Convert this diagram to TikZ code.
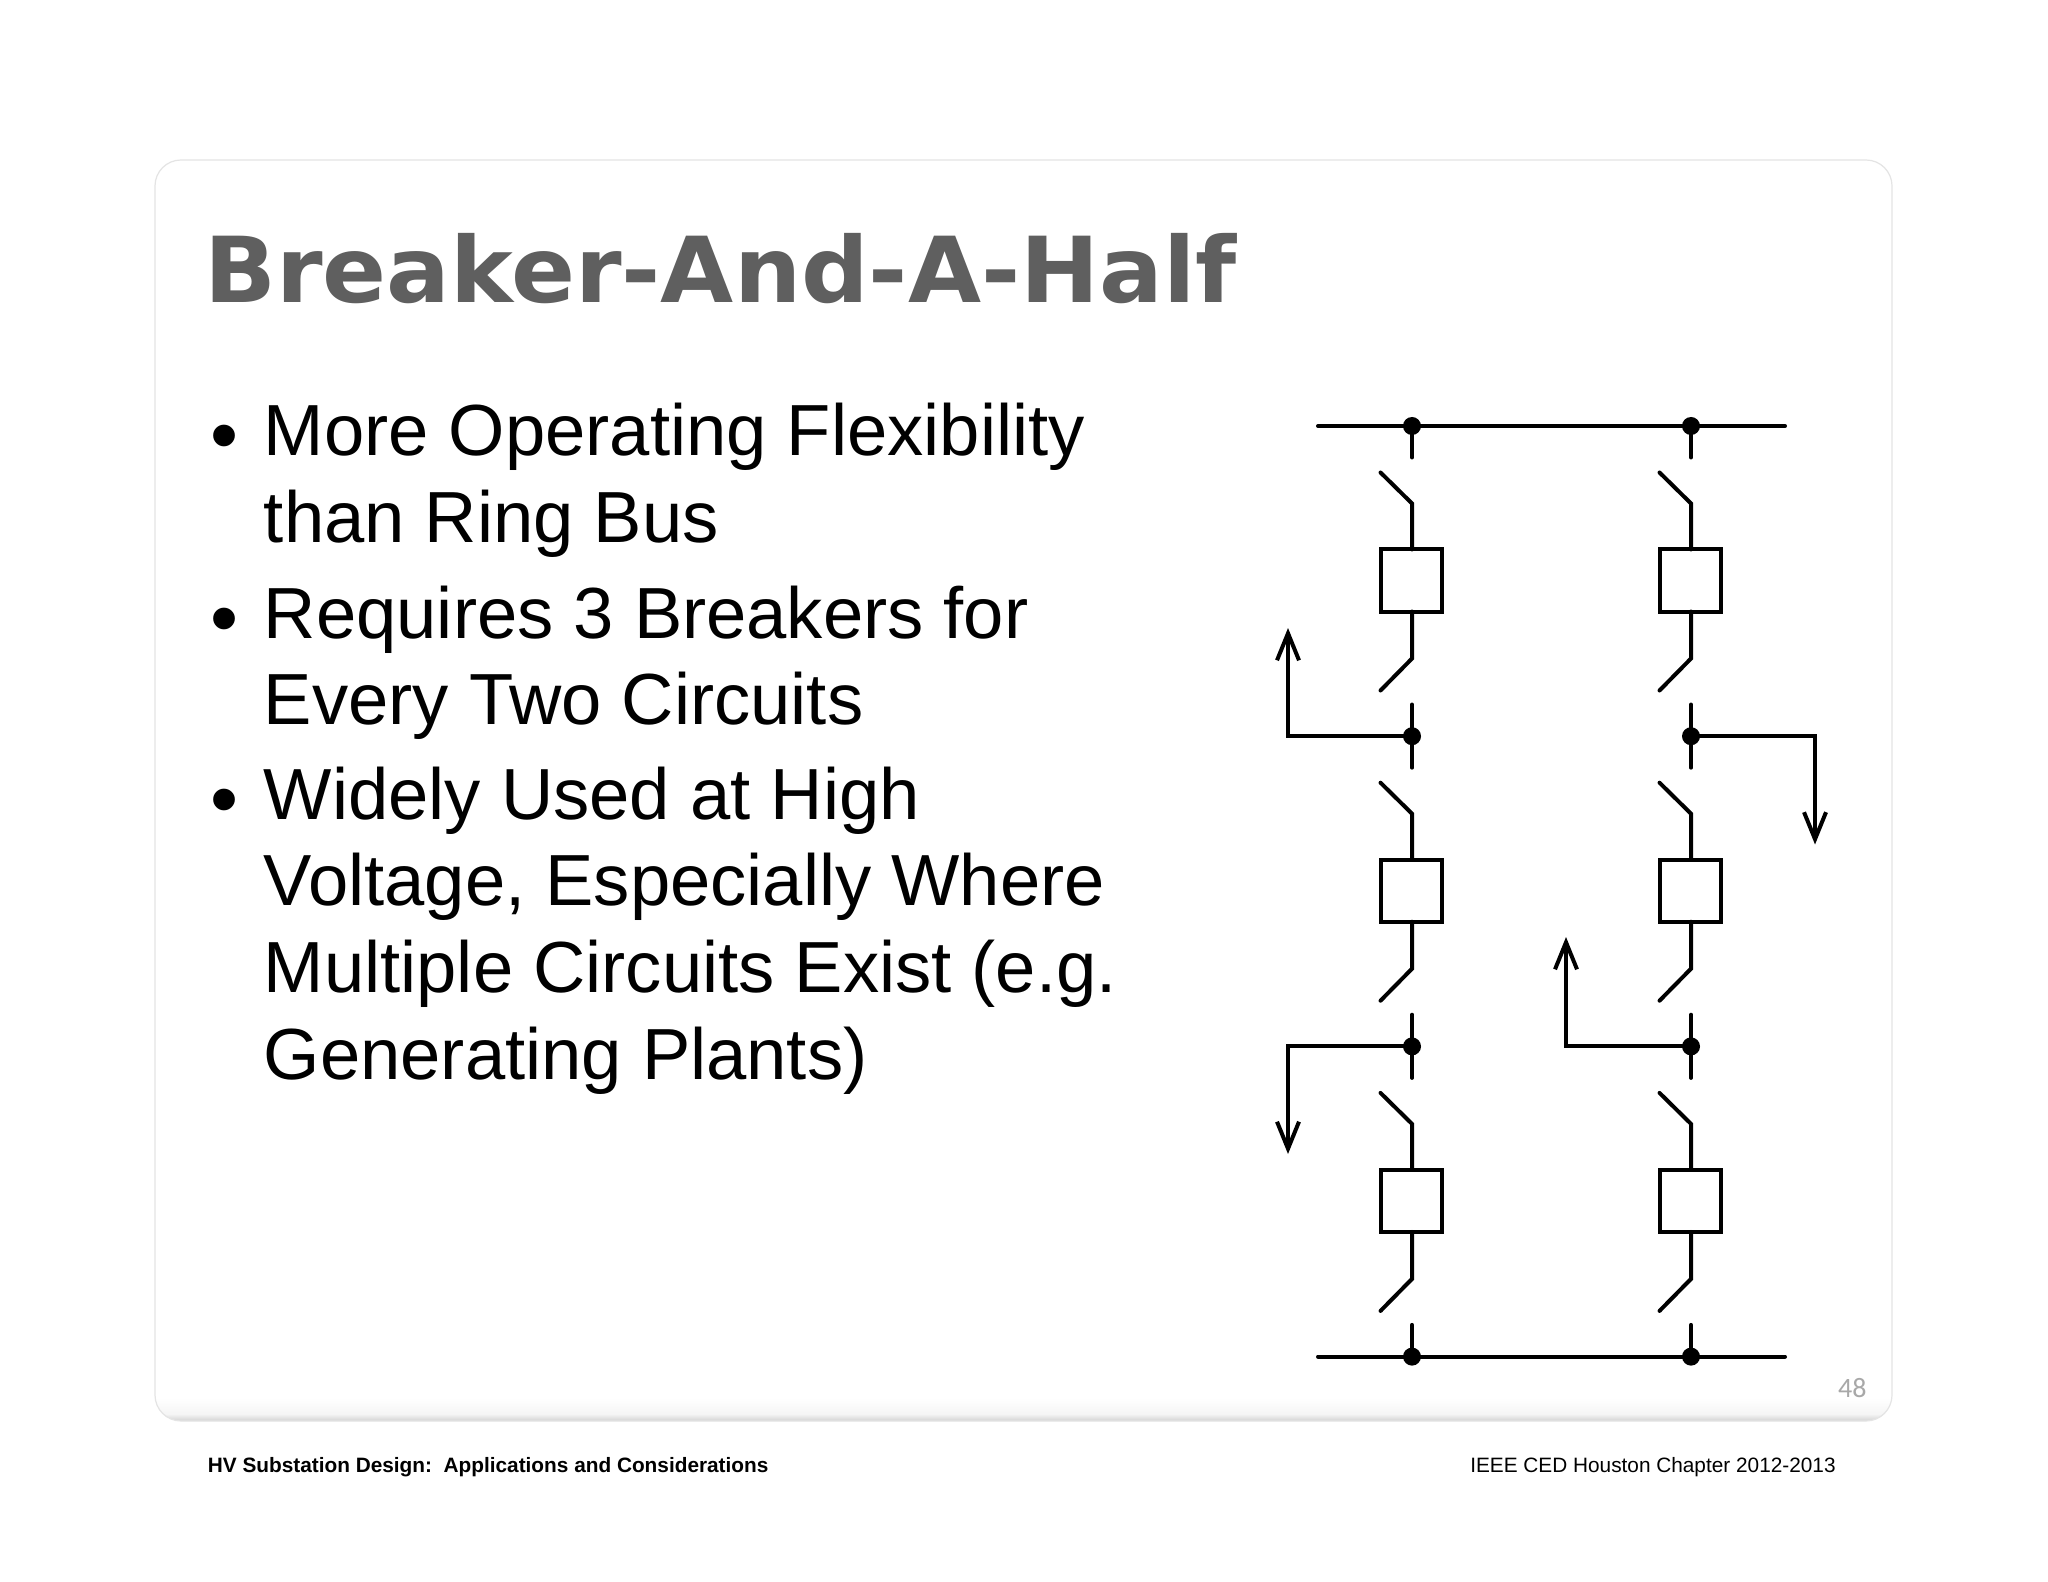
\documentclass[tikz,border=0pt]{standalone}
\usepackage{fontspec}
\setmainfont{Liberation Sans}
\newfontfamily\titlefont[FakeStretch=1.038]{DejaVu Sans}
\newfontfamily\numfont{Carlito}
\usetikzlibrary{arrows.meta}
\definecolor{titlegrey}{HTML}{5F5F5F}
\definecolor{cardedge}{HTML}{E4E4E4}
\definecolor{cardmid}{HTML}{F5F5F5}
\definecolor{cardshade}{HTML}{D2D2D2}
\definecolor{numgrey}{HTML}{A8A8A8}
\tikzset{
  x=0.5pt,y=-0.5pt,
  wire/.style={line width=2pt,line cap=round,line join=miter,black},
  feeder/.style={wire,-{Straight Barb[length=13.5pt,width=11pt,line width=2pt]}},
  breaker/.style={draw,black,line width=2pt,fill=white,minimum width=30.5pt,minimum height=31pt,inner sep=0pt,outer sep=0pt},
  dot/.style={circle,fill=black,minimum size=9pt,inner sep=0pt,outer sep=0pt},
  bodyline/.style={anchor=base west,inner sep=0pt,font=\fontsize{36.2}{36}\selectfont},
  bulletmark/.style={anchor=base,inner sep=0pt,font=\fontsize{40}{40}\selectfont},
  footer/.style={inner sep=0pt,font=\fontsize{10.4}{12}\selectfont}
}
\begin{document}
\begin{tikzpicture}
\useasboundingbox (0,0) rectangle (2048,1582);
\fill[white] (0,0) rectangle (2048,1582);
% card
\begin{scope}
\clip[rounded corners=13pt] (155,160) rectangle (1892,1421);
\fill[white] (155,160) rectangle (1892,1421);
\shade[top color=white,bottom color=cardmid] (155,1398) rectangle (1892,1414);
\shade[top color=cardmid,bottom color=cardshade] (155,1414) rectangle (1892,1421);
\end{scope}
\draw[cardedge,line width=0.6pt,rounded corners=13pt] (155,160) rectangle (1892,1421);
% title
\node[anchor=base west,inner sep=0pt,text=titlegrey,font=\titlefont\bfseries\fontsize{45.5}{46}\selectfont] (title) at (204,303) {Breaker-And-A-Half};
% body
\node[bulletmark] (b1) at (225,463) {•};
\node[bodyline] (l1) at (263.5,456) {More Operating Flexibility};
\node[bodyline] (l2) at (263.5,543) {than Ring Bus};
\node[bulletmark] (b2) at (225,645) {•};
\node[bodyline] (l3) at (263.5,638) {Requires 3 Breakers for};
\node[bodyline] (l4) at (263.5,724.5) {Every Two Circuits};
\node[bulletmark] (b3) at (225,826) {•};
\node[bodyline] (l5) at (263.5,819) {Widely Used at High};
\node[bodyline] (l6) at (263.5,905.5) {Voltage, Especially Where};
\node[bodyline] (l7) at (263.5,992.5) {Multiple Circuits Exist (e.g.};
\node[bodyline] (l8) at (263.5,1079.5) {Generating Plants)};
% footer and number
\node[footer,anchor=base west] (fl) at (207.5,1472) {\bfseries HV Substation Design:\ \ Applications and Considerations};
\node[footer,anchor=base east] (fr) at (1836,1472) {IEEE CED Houston Chapter 2012-2013};
\node[anchor=base east,inner sep=0pt,text=numgrey,font=\numfont\fontsize{14}{14}\selectfont] (num) at (1867,1397) {48};
% buses
\coordinate (busTL) at (1318,426);
\coordinate (busTR) at (1785,426);
\coordinate (busBL) at (1318,1356.6);
\coordinate (busBR) at (1785,1356.6);
% junctions, breakers, disconnect switches
\foreach \c/\xx in {L/1412,R/1691}{
  \foreach \r in {0,1,2,3}{
    \pgfmathsetmacro{\yy}{426+310.2*\r}
    \node[dot] (j\c\r) at (\xx,\yy) {};
  }
  \foreach \r/\s in {0/1,1/2,2/3}{
    \pgfmathsetmacro{\yy}{426+310.2*\r}
    \node[breaker] (k\c\s) at (\xx-0.5,\yy+154.5) {};
    % upper stub and upper switch
    \coordinate (su\c\s) at (\xx,\yy+31.5);
    \coordinate (hu\c\s) at (\xx,\yy+77.5);
    \coordinate (bu\c\s) at (\xx-31.5,\yy+46.5);
    \draw[wire] (j\c\r.center) -- (su\c\s);
    \draw[wire] (bu\c\s) -- (hu\c\s) -- (hu\c\s |- k\c\s.north);
    % lower switch and lower stub
    \coordinate (hl\c\s) at (\xx,\yy+232.5);
    \coordinate (bl\c\s) at (\xx-31.5,\yy+264.5);
    \coordinate (sl\c\s) at (\xx,\yy+278.5);
    \draw[wire] (hl\c\s |- k\c\s.south) -- (hl\c\s) -- (bl\c\s);
    \draw[wire] (sl\c\s) -- (j\c\s.center);
  }
}
\draw[wire] (busTL) -- (busTR);
\draw[wire] (busBL) -- (busBR);
% feeders
\coordinate (f1) at (1288,628);
\coordinate (f2) at (1815,844.5);
\coordinate (f3) at (1288,1154);
\coordinate (f4) at (1566,937);
\draw[feeder] (jL1.center) -| (f1);
\draw[feeder] (jR1.center) -| (f2);
\draw[feeder] (jL2.center) -| (f3);
\draw[feeder] (jR2.center) -| (f4);
\end{tikzpicture}
\end{document}
